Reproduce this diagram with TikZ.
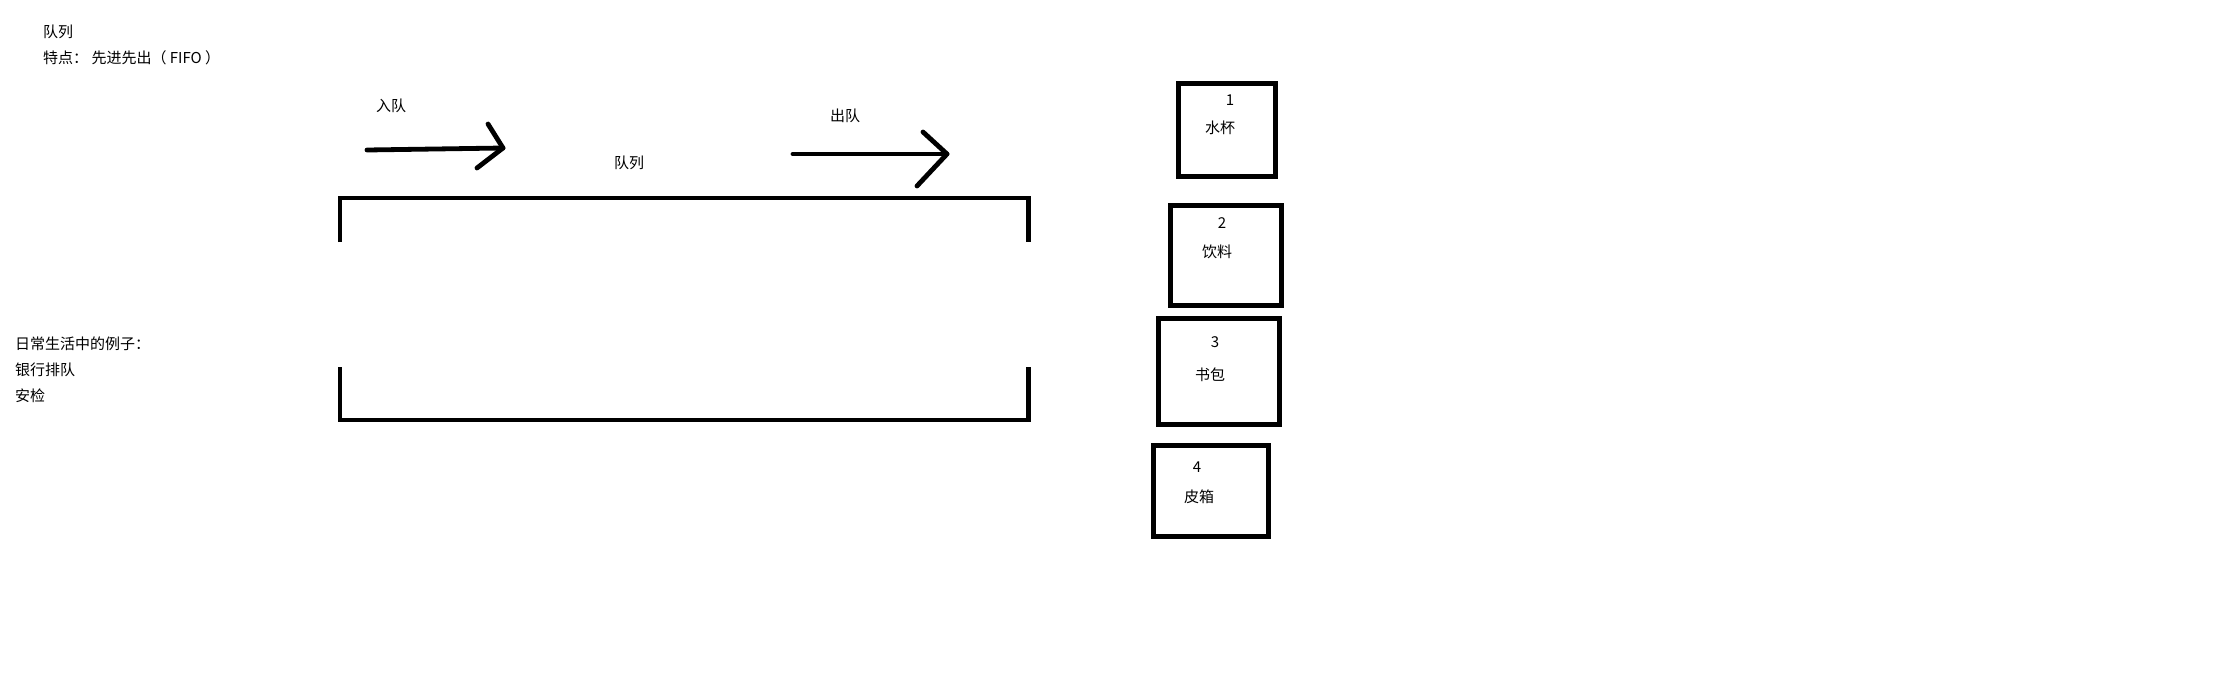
\documentclass[tikz,border=0pt]{standalone}
\usepackage{fontspec}
\newfontfamily\cjk{Noto Sans CJK SC}
\begin{document}
\begin{tikzpicture}[x=1pt,y=-1pt,
  txt/.style={font=\cjk\fontsize{15}{17}\selectfont, inner sep=0pt, anchor=west, text=black},
  stroke/.style={line width=4.8pt, black},
  item/.style={draw, line width=5pt, inner sep=0pt, anchor=center}]
\useasboundingbox (0,0) rectangle (2220,683);
% title texts
\node[txt] (t1) at (43,32) {队列};
\node[txt] (t2) at (43,58) {特点： 先进先出（ FIFO ）};
\node[txt] (e0) at (15,344) {日常生活中的例子：};
\node[txt] (e1) at (15,370) {银行排队};
\node[txt] (e2) at (15,396) {安检};
% arrows
\node[txt] (in) at (376,106) {入队};
\coordinate (a1s) at (367,150);
\coordinate (a1e) at (503,148);
\draw[stroke, line cap=round, line join=round] (a1s) -- (a1e);
\draw[stroke, line cap=round, line join=round] (488,124) -- (a1e) -- (477,168);
\node[txt] (out) at (830,116) {出队};
\coordinate (a2s) at (793,154);
\coordinate (a2e) at (947,154);
\draw[stroke, line cap=round, line join=round] (a2s) -- (a2e);
\draw[stroke, line cap=round, line join=round] (923,132) -- (a2e) -- (917,186);
% queue bracket
\node[txt] (q) at (614,163) {队列};
\draw[stroke, line join=miter] (340,242) -- (340,198) -- (1028.5,198) -- (1028.5,242);
\draw[stroke, line join=miter] (340,367) -- (340,420) -- (1028.5,420) -- (1028.5,367);
% boxes
\node[item, minimum width=97, minimum height=93] (b1) at (1227,130) {};
\node[txt, anchor=center] (n1) at (1230,100) {1};
\node[txt] (l1) at (1205,128) {水杯};
\node[item, minimum width=111, minimum height=100] (b2) at (1226,255.5) {};
\node[txt, anchor=center] (n2) at (1222,223) {2};
\node[txt] (l2) at (1202,252) {饮料};
\node[item, minimum width=121, minimum height=106] (b3) at (1219,371.5) {};
\node[txt, anchor=center] (n3) at (1215,342) {3};
\node[txt] (l3) at (1195,375) {书包};
\node[item, minimum width=115, minimum height=91] (b4) at (1211,491) {};
\node[txt, anchor=center] (n4) at (1197,467) {4};
\node[txt] (l4) at (1184,497) {皮箱};
\end{tikzpicture}
\end{document}
